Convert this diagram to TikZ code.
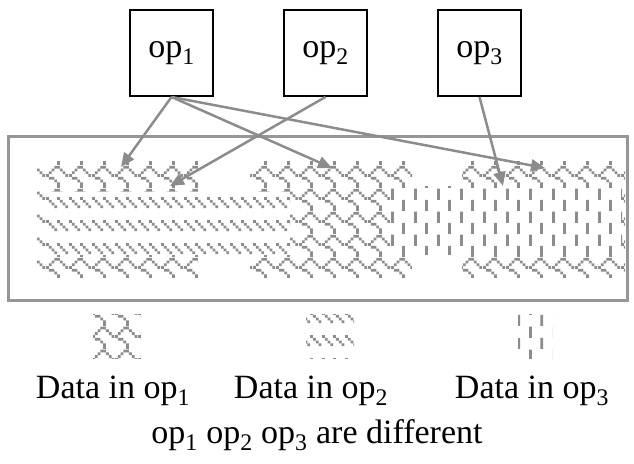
\documentclass[tikz,border=0pt]{standalone}
\usepackage{fontspec}
\setmainfont{Liberation Serif}
\usetikzlibrary{patterns.meta,arrows.meta}

\definecolor{hatchgray}{RGB}{140,140,140}
\definecolor{framegray}{RGB}{150,150,150}

% one cell of an 8x8 hatch bitmap: column #1, row #2 counted from the top
\newcommand{\hatchpx}[2]{%
  \pgfpathrectangle{\pgfpoint{#1*2.875bp}{(7-#2)*2.875bp}}{\pgfpoint{2.875bp}{2.875bp}}}

% shingle hatch
\pgfdeclarepattern{
  name=shingle, type=uncolored,
  bottom left={\pgfpointorigin}, top right={\pgfpoint{23bp}{23bp}},
  tile size={\pgfpoint{23bp}{23bp}},
  code={%
    \hatchpx{3}{0}\hatchpx{4}{0}
    \hatchpx{5}{1}\hatchpx{2}{1}
    \hatchpx{6}{2}\hatchpx{1}{2}
    \hatchpx{7}{3}\hatchpx{0}{3}
    \hatchpx{1}{4}\hatchpx{2}{4}
    \hatchpx{3}{5}
    \hatchpx{4}{6}
    \hatchpx{4}{7}
    \pgfusepath{fill}}
}

% dashed downward diagonal hatch
\pgfdeclarepattern{
  name=dashdiag, type=uncolored,
  bottom left={\pgfpointorigin}, top right={\pgfpoint{23bp}{23bp}},
  tile size={\pgfpoint{23bp}{23bp}},
  code={%
    \hatchpx{0}{3}\hatchpx{4}{3}
    \hatchpx{1}{4}\hatchpx{5}{4}
    \hatchpx{2}{5}\hatchpx{6}{5}
    \hatchpx{3}{6}\hatchpx{7}{6}
    \pgfusepath{fill}}
}

% dashed vertical hatch
\pgfdeclarepattern{
  name=dashvert, type=uncolored,
  bottom left={\pgfpointorigin}, top right={\pgfpoint{23bp}{23bp}},
  tile size={\pgfpoint{23bp}{23bp}},
  code={%
    \hatchpx{0}{0}\hatchpx{0}{1}\hatchpx{0}{2}\hatchpx{0}{3}
    \hatchpx{4}{4}\hatchpx{4}{5}\hatchpx{4}{6}\hatchpx{4}{7}
    \pgfusepath{fill}}
}

\tikzset{
  opbox/.style={draw=black, line width=2bp, minimum width=83bp, minimum height=86bp,
    inner sep=0pt, font=\fontsize{34bp}{40bp}\selectfont},
  lbl/.style={inner sep=0pt, anchor=base, font=\fontsize{34bp}{40bp}\selectfont},
  pointer/.style={draw=hatchgray, line width=2.5bp, -{Triangle[length=14bp,width=12bp]}},
  fillA/.style={pattern=shingle, pattern color=hatchgray},
  fillB/.style={fill=white, postaction={pattern=dashdiag, pattern color=hatchgray}},
  fillC/.style={fill=white, postaction={pattern=dashvert, pattern color=hatchgray}},
  key/.style={inner sep=0pt, minimum width=48bp, minimum height=44bp}
}

\begin{document}
\begin{tikzpicture}[x=1bp, y=1bp]
  \useasboundingbox (0,0) rectangle (634,-464);

  % memory strip
  \draw[framegray, line width=3bp] (8,-137) rectangle (627,-300);

  % data written by op1
  \path[fillA] (37,-162) rectangle (198,-278);
  \path[fillA] (250,-162) rectangle (412,-278);
  \path[fillA] (462,-162) rectangle (625,-278);
  % data written by op2
  \path[fillB] (48,-192) rectangle (290,-255);
  % data written by op3
  \path[fillC] (390,-187) rectangle (622,-255);

  % operators
  \node[opbox] (op1) at (171.5,-53) {op\textsubscript{1}};
  \node[opbox] (op2) at (325.5,-53) {op\textsubscript{2}};
  \node[opbox] (op3) at (479.5,-53) {op\textsubscript{3}};

  \coordinate (a1) at (121,-167);
  \coordinate (a2) at (332,-168);
  \coordinate (a3) at (545,-168);
  \coordinate (b1) at (170,-186);
  \coordinate (c1) at (503,-186);

  \draw[pointer] (op1.south) -- (a1);
  \draw[pointer] (op1.south) -- (a2);
  \draw[pointer] (op1.south) -- (a3);
  \draw[pointer] (op2.south) -- (b1);
  \draw[pointer] (op3.south) -- (c1);

  % legend
  \node[key, fillA] (k1) at (117,-336) {};
  \node[key, fillB] (k2) at (330,-336) {};
  \node[key, fillC, minimum width=34bp] (k3) at (535,-336) {};

  \node[lbl] (l1) at (113,-398) {Data in op\textsubscript{1}};
  \node[lbl] (l2) at (311,-398) {Data in op\textsubscript{2}};
  \node[lbl] (l3) at (532,-398) {Data in op\textsubscript{3}};
  \node[lbl] (note) at (317,-443) {op\textsubscript{1} op\textsubscript{2} op\textsubscript{3} are different};
\end{tikzpicture}
\end{document}
